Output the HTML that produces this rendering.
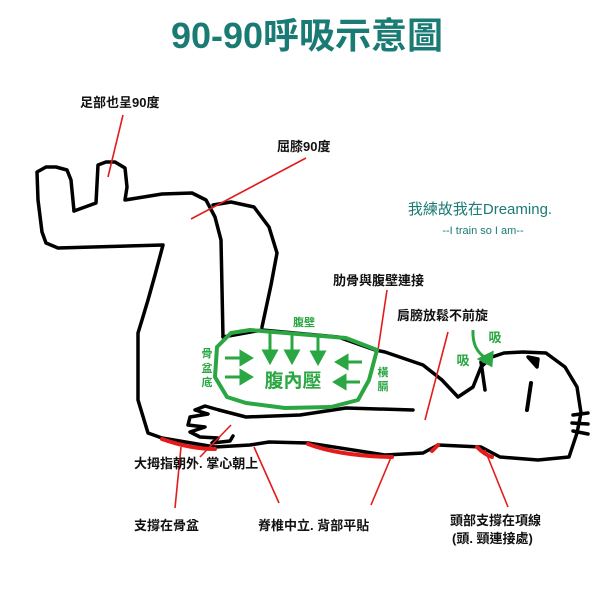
<!DOCTYPE html>
<html><head><meta charset="utf-8"><style>
body{margin:0;background:#fff}
svg{display:block}
.b{font-family:"Liberation Sans","Noto Sans CJK TC",sans-serif;font-weight:bold;font-size:13px;fill:#111}
.g{font-family:"Liberation Sans","Noto Sans CJK TC",sans-serif;font-weight:bold;fill:#2aa642}
</style></head><body>
<svg width="600" height="600" viewBox="0 0 600 600" xmlns="http://www.w3.org/2000/svg">
<text x="307" y="48" text-anchor="middle" style="font-family:'Liberation Sans','Noto Sans CJK TC',sans-serif;font-weight:bold;font-size:36px;fill:#1a7a74">90-90呼吸示意圖</text>

<g fill="none" stroke="#000" stroke-width="3.5" stroke-linecap="round" stroke-linejoin="round">
<path d="M74,211 L71,180 L67,170 L56,167 L46,167 L37,172 L38,200 L42,232 L46,243 L58,248 L163,245 L155,275 L148,300 L142,320 L138,333 L138,400 L148,433 L162,438 L215,447 L250,445 L269,442 L308,443 L385,455 L423,453 L438,445 L481,447 L500,457 L538,460 L569,457 L577,433 L581,413 L577,387 L565,367 L546,353 L523,352 L504,353 L492,357"/>
<path d="M74,211 L96,203 L98,165 L106,162 L115,162 L125,168 L127,187 L125,200 L162,194 L192,193 L206,200 L215,217 L221,240 L223,337"/>
<path d="M213,205 L231,202 L254,207 L269,227 L277,253 L271,285 L262,327"/>
<path d="M223,337 L262,330 L338,337 L375,350 L385,352 L423,365 L442,380 L458,397 L473,387 L481,367 L492,357"/>
<path d="M413,410 L346,408 L300,415 L246,417 L219,410"/>
<path d="M219,410 L205,406 L195,410 L208,414 L190,417 L188,425 L205,427 L190,432 L200,437 L218,438 L212,443 L230,441 L233,436"/>
<path d="M481,362 L485,390"/>
<path d="M527,410 L531,383" stroke-width="4"/>
<path d="M528,357 L537,367 L538,359 Z" fill="#000"/>
<path d="M573,415 L588,413 M572,423 L588,424 M573,431 L588,434"/>
</g>

<g fill="none" stroke="#e41b1b" stroke-width="4" stroke-linecap="round">
<path d="M162,439 Q190,449 215,449"/>
<path d="M308,444 Q340,456 392,457"/>
<path d="M438,445 L432,451"/>
<path d="M477,447 Q485,455 492,457"/>
</g>
<g stroke="#e41b1b" stroke-width="1.6">
<line x1="123" y1="115" x2="108" y2="177"/>
<line x1="306" y1="158" x2="191" y2="219"/>
<line x1="387" y1="290" x2="378" y2="350"/>
<line x1="448" y1="332" x2="425" y2="420"/>
<line x1="231" y1="425" x2="200" y2="457"/>
<line x1="181" y1="447" x2="175" y2="508"/>
<line x1="254" y1="447" x2="279" y2="503"/>
<line x1="392" y1="455" x2="371" y2="505"/>
<line x1="485" y1="450" x2="508" y2="507"/>
</g>

<path d="M217,347 L231,333 L250,330 L346,338 L377,350 L369,380 L358,400 L331,407 L285,408 L246,403 L227,397 L215,377 Z" fill="none" stroke="#2aa642" stroke-width="4" stroke-linejoin="round"/>
<g fill="#2aa642" stroke="#2aa642" stroke-width="3">
<line x1="270" y1="333" x2="270" y2="352"/><path d="M264,351 L276,351 L270,362 Z"/>
<line x1="292" y1="335" x2="292" y2="352"/><path d="M286,351 L298,351 L292,362 Z"/>
<line x1="318" y1="335" x2="318" y2="353"/><path d="M312,352 L324,352 L318,363 Z"/>
<line x1="225" y1="358" x2="242" y2="358"/><path d="M241,352 L241,364 L251,358 Z"/>
<line x1="225" y1="377" x2="242" y2="377"/><path d="M241,371 L241,383 L251,377 Z"/>
<line x1="362" y1="362" x2="346" y2="362"/><path d="M347,356 L347,368 L337,362 Z"/>
<line x1="360" y1="382" x2="344" y2="382"/><path d="M345,376 L345,388 L335,382 Z"/>
<path d="M473,330 Q472,350 486,358" fill="none"/><path d="M480,359 L492,353 L491,365 Z"/>
</g>
<text class="g" x="304" y="326" font-size="11" text-anchor="middle">腹壁</text>
<text class="g" x="207" y="357" font-size="11" text-anchor="middle">骨</text>
<text class="g" x="207" y="372" font-size="11" text-anchor="middle">盆</text>
<text class="g" x="207" y="386" font-size="11" text-anchor="middle">底</text>
<text class="g" x="383" y="376" font-size="11" text-anchor="middle">橫</text>
<text class="g" x="383" y="390" font-size="11" text-anchor="middle">膈</text>
<text class="g" x="293" y="387" font-size="19" text-anchor="middle">腹內壓</text>
<text class="g" x="495" y="342" font-size="13" text-anchor="middle">吸</text>
<text class="g" x="463" y="365" font-size="13" text-anchor="middle">吸</text>

<text x="480" y="214" text-anchor="middle" style="font-family:'Liberation Sans','Noto Sans CJK TC',sans-serif;font-size:15px;fill:#1a7a74">我練故我在Dreaming.</text>
<text x="483" y="234" text-anchor="middle" style="font-family:'Liberation Sans',sans-serif;font-size:11px;fill:#1a7a74">--I train so I am--</text>

<text class="b" x="80" y="107">足部也呈90度</text>
<text class="b" x="277" y="151">屈膝90度</text>
<text class="b" x="333" y="285">肋骨與腹壁連接</text>
<text class="b" x="397" y="320">肩膀放鬆不前旋</text>
<text class="b" x="134" y="468">大拇指朝外. 掌心朝上</text>
<text class="b" x="134" y="530">支撐在骨盆</text>
<text class="b" x="258" y="530">脊椎中立. 背部平貼</text>
<text class="b" x="450" y="525">頭部支撐在項線</text>
<text class="b" x="452" y="543">(頭. 頸連接處)</text>
</svg>
</body></html>
